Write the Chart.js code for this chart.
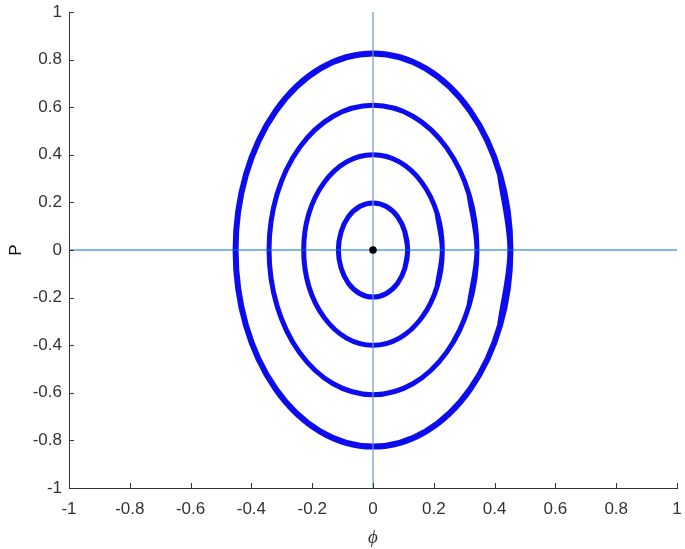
<!DOCTYPE html>
<html>
<head>
<meta charset="utf-8">
<script src="https://cdn.jsdelivr.net/npm/chart.js@4"></script>
<style>
  html, body { margin: 0; padding: 0; background: #fff; }
  #wrap { width: 685px; height: 549px; }
</style>
</head>
<body>
<div id="wrap"><canvas id="c" width="685" height="549"></canvas></div>
<script>
// values (phase-plane orbits, phi vs P)
const xTicks = [-1, -0.8, -0.6, -0.4, -0.2, 0, 0.2, 0.4, 0.6, 0.8, 1];
const yTicks = [-1, -0.8, -0.6, -0.4, -0.2, 0, 0.2, 0.4, 0.6, 0.8, 1];

const ring1Phi = [0.114, 0.105, 0.081, 0.044, 0, -0.044, -0.081, -0.105, -0.114, -0.105, -0.081, -0.044, 0, 0.044, 0.081, 0.105, 0.114];
const ring1P   = [0, 0.076, 0.140, 0.183, 0.198, 0.183, 0.140, 0.076, 0, -0.076, -0.140, -0.183, -0.198, -0.183, -0.140, -0.076, 0];

const ring2Phi = [0.228, 0.211, 0.161, 0.087, 0, -0.087, -0.161, -0.211, -0.228, -0.211, -0.161, -0.087, 0, 0.087, 0.161, 0.211, 0.228];
const ring2P   = [0, 0.153, 0.283, 0.370, 0.400, 0.370, 0.283, 0.153, 0, -0.153, -0.283, -0.370, -0.400, -0.370, -0.283, -0.153, 0];

const ring3Phi = [0.342, 0.316, 0.242, 0.131, 0, -0.131, -0.242, -0.316, -0.342, -0.316, -0.242, -0.131, 0, 0.131, 0.242, 0.316, 0.342];
const ring3P   = [0, 0.233, 0.430, 0.562, 0.608, 0.562, 0.430, 0.233, 0, -0.233, -0.430, -0.562, -0.608, -0.562, -0.430, -0.233, 0];

const ring4Phi = [0.452, 0.418, 0.320, 0.173, 0, -0.173, -0.320, -0.418, -0.452, -0.418, -0.320, -0.173, 0, 0.173, 0.320, 0.418, 0.452];
const ring4P   = [0, 0.316, 0.584, 0.763, 0.826, 0.763, 0.584, 0.316, 0, -0.316, -0.584, -0.763, -0.826, -0.763, -0.584, -0.316, 0];

const fixedPoint = [{ x: 0, y: 0 }];
const hAxisLine = [{ x: -1, y: 0 }, { x: 1, y: 0 }];
const vAxisLine = [{ x: 0, y: -1 }, { x: 0, y: 1 }];

const pts = (xs, ys) => xs.map((x, i) => ({ x, y: ys[i] }));

const tickColor = "#333333";
const orbitBlue = "rgb(12,12,238)";

// closed orbit: repeat one point on each side of the seam so the spline has no kink there
function orbit(xs, ys, w) {
  const p = pts(xs, ys);
  const n = p.length;
  return {
    data: [p[n - 2], ...p, p[1]],
    borderColor: orbitBlue,
    borderWidth: w,
    pointRadius: 0,
    tension: 0.34,
    fill: false,
  };
}

// MATLAB style inward tick marks
const inwardTicks = {
  id: "inwardTicks",
  afterDatasetsDraw(chart) {
    const { ctx, chartArea: a, scales } = chart;
    ctx.save();
    ctx.strokeStyle = tickColor;
    ctx.lineWidth = 1;
    ctx.beginPath();
    xTicks.forEach((v) => {
      const px = Math.round(scales.x.getPixelForValue(v)) + 0.5;
      ctx.moveTo(px, a.bottom);
      ctx.lineTo(px, a.bottom - 5);
    });
    yTicks.forEach((v) => {
      const py = Math.round(scales.y.getPixelForValue(v)) + 0.5;
      ctx.moveTo(a.left, py);
      ctx.lineTo(a.left + 5, py);
    });
    ctx.stroke();
    ctx.restore();
  },
};

new Chart(document.getElementById("c"), {
  type: "line",
  data: {
    datasets: [
      {
        data: fixedPoint,
        showLine: false,
        pointRadius: 3.8,
        pointBackgroundColor: "#000",
        pointBorderColor: "#000",
        pointBorderWidth: 0,
        pointStyle: "circle",
      },
      { data: hAxisLine, borderColor: "rgb(0,114,189)", borderWidth: 1, pointRadius: 0 },
      { data: vAxisLine, borderColor: "rgb(110,155,190)", borderWidth: 1.2, pointRadius: 0 },
      orbit(ring1Phi, ring1P, 5),
      orbit(ring2Phi, ring2P, 5),
      orbit(ring3Phi, ring3P, 5),
      orbit(ring4Phi, ring4P, 6),
    ],
  },
  options: {
    responsive: false,
    animation: false,
    layout: { padding: 0 },
    plugins: { legend: { display: false }, tooltip: { enabled: false } },
    scales: {
      x: {
        type: "linear",
        min: -1,
        max: 1,
        afterBuildTicks: (s) => { s.ticks = xTicks.map((value) => ({ value })); },
        afterFit: (s) => { s.height = 61; s.paddingRight = 8; },
        ticks: {
          color: tickColor,
          padding: 11,
          font: { family: "Liberation Sans", size: 17 },
          callback: (v) => String(v),
        },
        grid: { display: true, drawOnChartArea: false, drawTicks: false },
        border: { display: true, color: tickColor, width: 1 },
        title: {
          display: true,
          text: "ϕ",
          color: tickColor,
          font: { family: "Liberation Serif", size: 19, style: "italic" },
          padding: { top: 0, bottom: 0 },
        },
      },
      y: {
        type: "linear",
        min: -1,
        max: 1,
        afterBuildTicks: (s) => { s.ticks = yTicks.map((value) => ({ value })); },
        afterFit: (s) => { s.width = 69; s.paddingTop = 12; },
        ticks: {
          color: tickColor,
          padding: 7,
          font: { family: "Liberation Sans", size: 17 },
          callback: (v) => String(v),
        },
        grid: { display: true, drawOnChartArea: false, drawTicks: false },
        border: { display: true, color: tickColor, width: 1 },
        title: {
          display: true,
          text: "P",
          color: "#111",
          font: { family: "Liberation Sans", size: 17 },
          padding: { top: 6, bottom: 2 },
        },
      },
    },
  },
  plugins: [inwardTicks],
});
</script>
</body>
</html>
